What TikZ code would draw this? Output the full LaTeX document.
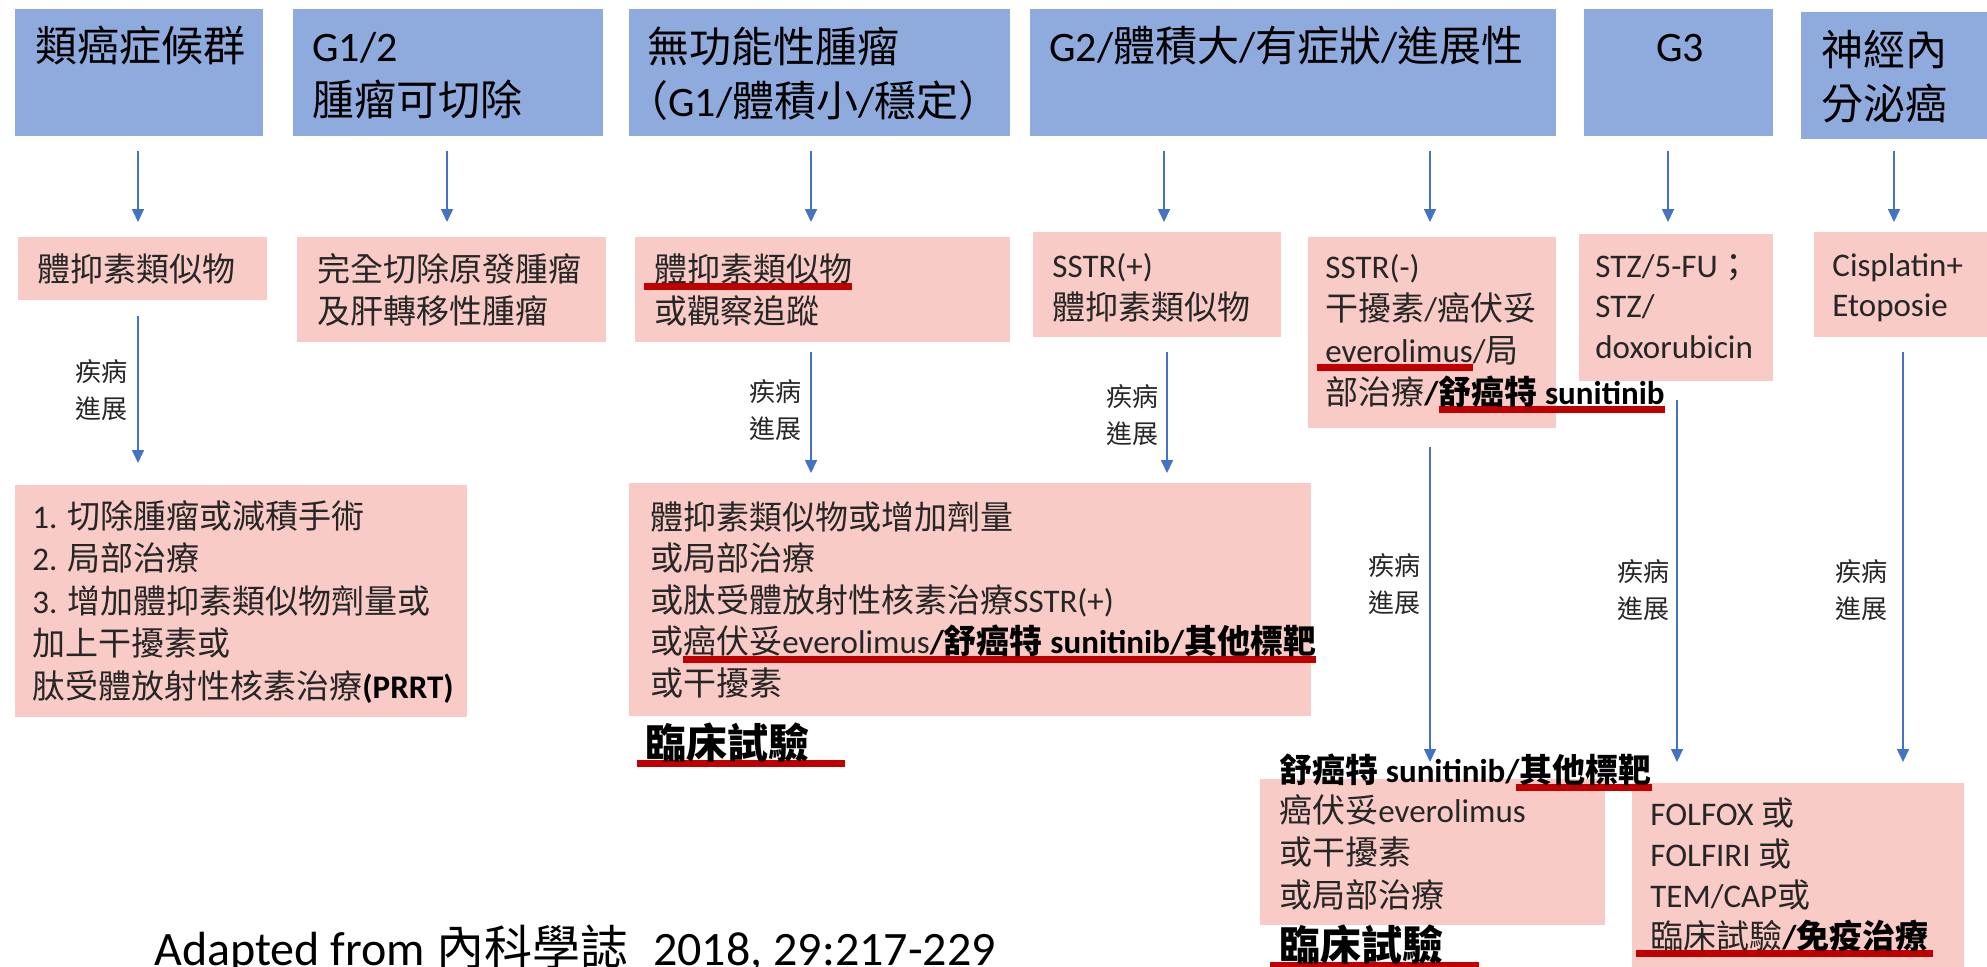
\documentclass[tikz,border=0pt]{standalone}
\usepackage{fontspec}
\setmainfont{Carlito}
\newfontfamily\cjk{Noto Sans CJK TC}
\usetikzlibrary{arrows.meta}
\definecolor{hdrblue}{HTML}{8FAADC}
\definecolor{boxpink}{HTML}{F9CBC6}
\definecolor{arrowblue}{HTML}{4472C4}
\definecolor{ulred}{HTML}{C00000}
\definecolor{txtgray}{HTML}{262626}
\newcommand\zh[1]{{\cjk #1}}
\newsavebox\ulbox
\newcommand\ulr[3]{\sbox\ulbox{#3}\rlap{\hskip-#1\textcolor{ulred}{\rule[-4.5pt]{\dimexpr\wd\ulbox+#1+#2\relax}{3.5pt}}}\usebox\ulbox}
\tikzset{
  hdr/.style={fill=hdrblue, draw=none, anchor=north west, inner sep=0pt, outer sep=0pt},
  pbox/.style={fill=boxpink, draw=none, anchor=north west, inner sep=0pt, outer sep=0pt},
  htxt/.style={anchor=base west, inner sep=0pt, align=left, text=black, font=\fontsize{21pt}{27pt}\selectfont},
  btxt/.style={anchor=base west, inner sep=0pt, align=left, text=txtgray, font=\fontsize{16.5pt}{21pt}\selectfont},
  lbl/.style={anchor=base west, inner sep=0pt, align=left, text=txtgray, font=\fontsize{13pt}{18.5pt}\selectfont},
  trial/.style={anchor=base west, inner sep=0pt, text=black, font=\fontsize{20.5pt}{24pt}\selectfont\bfseries},
  arr/.style={draw=arrowblue, line width=0.8pt, -{Triangle[width=6pt,length=6.5pt]}},
}
\begin{document}
\begin{tikzpicture}[x=0.5pt,y=-0.5pt]
\useasboundingbox (0,0) rectangle (1987,966);
% header boxes
\node[hdr, minimum width=124pt,   minimum height=63.5pt] (b1) at (15,9) {};
\node[hdr, minimum width=155pt,   minimum height=63.5pt] (b2) at (293,9) {};
\node[hdr, minimum width=190.5pt, minimum height=63.5pt] (b3) at (629,9) {};
\node[hdr, minimum width=263pt,   minimum height=63.5pt] (b4) at (1030,9) {};
\node[hdr, minimum width=94.5pt,  minimum height=63.5pt] (b5) at (1584,9) {};
\node[hdr, minimum width=93pt,    minimum height=63.5pt] (b6) at (1801,12) {};
% second row
\node[pbox, minimum width=124.5pt, minimum height=31.5pt] (p1) at (18,237) {};
\node[pbox, minimum width=154.5pt, minimum height=52.5pt] (p2) at (297,237) {};
\node[pbox, minimum width=187.5pt, minimum height=52.5pt] (p3) at (635,237) {};
\node[pbox, minimum width=124pt,   minimum height=52.5pt] (p4) at (1033,232) {};
\node[pbox, minimum width=124pt,   minimum height=95.5pt] (p5) at (1308,237) {};
\node[pbox, minimum width=97pt,    minimum height=73.5pt] (p6) at (1579,234) {};
\node[pbox, minimum width=86.5pt,  minimum height=52.5pt] (p7) at (1814,232) {};
% third row
\node[pbox, minimum width=226pt,   minimum height=116pt]   (q1) at (15,485) {};
\node[pbox, minimum width=341pt,   minimum height=116.5pt] (q2) at (629,483) {};
\node[pbox, minimum width=172.5pt, minimum height=73pt]    (q3) at (1260,779) {};
\node[pbox, minimum width=166pt,   minimum height=100pt]   (q4) at (1632,783) {};
% arrow x positions
\coordinate (ax1) at (138,0);
\coordinate (ax2) at (447,0);
\coordinate (ax3) at (811,0);
\coordinate (ax4) at (1164,0);
\coordinate (ax4b) at (1167,0);
\coordinate (ax5) at (1430,0);
\coordinate (ax6) at (1668,0);
\coordinate (ax6b) at (1677,0);
\coordinate (ax7) at (1894,0);
\coordinate (ax7b) at (1903,0);
% arrows
\draw[arr, shorten <=7.5pt, shorten >=7.5pt] (b1.south -| ax1) -- (p1.north -| ax1);
\draw[arr, shorten <=7.5pt, shorten >=7.5pt] (b2.south -| ax2) -- (p2.north -| ax2);
\draw[arr, shorten <=7.5pt, shorten >=7.5pt] (b3.south -| ax3) -- (p3.north -| ax3);
\draw[arr, shorten <=7.5pt, shorten >=5pt]   (b4.south -| ax4) -- (p4.north -| ax4);
\draw[arr, shorten <=7.5pt, shorten >=7.5pt] (b4.south -| ax5) -- (p5.north -| ax5);
\draw[arr, shorten <=7.5pt, shorten >=6pt]   (b5.south -| ax6) -- (p6.north -| ax6);
\draw[arr, shorten <=6pt,   shorten >=5pt]   (b6.south -| ax7) -- (p7.north -| ax7);
\draw[arr, shorten <=8pt,   shorten >=11pt]  (p1.south -| ax1) -- (q1.north -| ax1);
\draw[arr, shorten <=5pt,   shorten >=5pt]   (p3.south -| ax3) -- (q2.north -| ax3);
\draw[arr, shorten <=7.5pt, shorten >=5pt]   (p4.south -| ax4b) -- (q2.north -| ax4b);
\draw[arr, shorten <=9.5pt, shorten >=8.5pt] (p5.south -| ax5) -- (q3.north -| ax5);
\draw[arr, shorten <=9.5pt, shorten >=10.5pt] (p6.south -| ax6b) -- (q4.north -| ax6b);
\draw[arr, shorten <=7.5pt, shorten >=10.5pt] (p7.south -| ax7b) -- (q4.north -| ax7b);
% header texts (multi-line nodes are anchored at the baseline of their last line)
\node[htxt] (b1t) at (35,61) {\zh{類癌症候群}};
\node[htxt] (b2t) at (312,115) {G1/2\\\zh{腫瘤可切除}};
\node[htxt] (b3t) at (647,116) {\zh{無功能性腫瘤}\\\hspace*{-0.5em}\zh{（}G1/\zh{體積小}/\zh{穩定）}};
\node[htxt] (b4t) at (1049,61) {G2/\zh{體積大}/\zh{有症狀}/\zh{進展性}};
\node[htxt, anchor=base] (b5t) at (1680,61) {G3};
\node[htxt] (b6t) at (1821,119) {\zh{神經內}\\\zh{分泌癌}};
% second row texts
\node[btxt] (p1t) at (37,281) {\zh{體抑素類似物}};
\node[btxt] (p2t) at (317,323) {\zh{完全切除原發腫瘤}\\\zh{及肝轉移性腫瘤}};
\node[btxt] (p3t) at (654,323) {\ulr{5pt}{0pt}{\zh{體抑素類似物}}\\\zh{或觀察追蹤}};
\node[btxt] (p4t) at (1052,319) {SSTR(+)\\\zh{體抑素類似物}};
\node[btxt] (p5t) at (1325,404) {SSTR(-)\\\zh{干擾素}/\zh{癌伏妥}\\\ulr{4pt}{0pt}{everolimus}/\zh{局}\\\zh{部治療}\textbf{\color{black}/\ulr{0pt}{0pt}{\zh{舒癌特} sunitinib}}};
\node[btxt, font=\fontsize{16.5pt}{20.25pt}\selectfont] (p6t) at (1595,358) {STZ/5-FU\zh{；}\\STZ/\\doxorubicin};
\node[btxt, font=\fontsize{16.5pt}{20pt}\selectfont] (p7t) at (1832,316) {Cisplatin+\\Etoposie};
% third row texts
\node[btxt, font=\fontsize{16.5pt}{21.25pt}\selectfont] (q1t) at (32,698) {1. \zh{切除腫瘤或減積手術}\\2. \zh{局部治療}\\3. \zh{增加體抑素類似物劑量或}\\\zh{加上干擾素或}\\\zh{肽受體放射性核素治療}\textbf{\color{black}(PRRT)}};
\node[btxt, font=\fontsize{16.5pt}{20.75pt}\selectfont] (q2t) at (650,695) {\zh{體抑素類似物或增加劑量}\\\zh{或局部治療}\\\zh{或肽受體放射性核素治療}SSTR(+)\\\zh{或}\ulr{0pt}{0pt}{\zh{癌伏妥}everolimus\textbf{\color{black}/\zh{舒癌特} sunitinib/\zh{其他標靶}}}\\\zh{或干擾素}};
\node[trial] (trial1) at (645,758) {\ulr{4pt}{18pt}{\zh{臨床試驗}}};
\node[btxt, text=black, font=\fontsize{16.5pt}{21pt}\selectfont\bfseries] (q3top) at (1279,782) {\zh{舒癌特} sunitinib/\ulr{2pt}{0pt}{\zh{其他標靶}}};
\node[btxt, font=\fontsize{16.5pt}{21.25pt}\selectfont] (q3t) at (1279,907) {\zh{癌伏妥}everolimus\\\zh{或干擾素}\\\zh{或局部治療}};
\node[trial] (trial2) at (1279,960) {\ulr{4.5pt}{18pt}{\zh{臨床試驗}}};
\node[btxt, font=\fontsize{16.5pt}{20.5pt}\selectfont] (q4t) at (1650,948) {FOLFOX \zh{或}\\FOLFIRI \zh{或}\\TEM/CAP\zh{或}\\\ulr{7pt}{2pt}{\zh{臨床試驗}\textbf{\color{black}/\zh{免疫治療}}}};
% progression labels
\node[lbl] (l1) at (75,418)   {\zh{疾病}\\\zh{進展}};
\node[lbl] (l3) at (749,438)  {\zh{疾病}\\\zh{進展}};
\node[lbl] (l4) at (1106,443) {\zh{疾病}\\\zh{進展}};
\node[lbl] (l5) at (1368,612) {\zh{疾病}\\\zh{進展}};
\node[lbl] (l6) at (1617,618) {\zh{疾病}\\\zh{進展}};
\node[lbl] (l7) at (1835,618) {\zh{疾病}\\\zh{進展}};
% source
\node[anchor=base west, inner sep=0pt, text=black, font=\fontsize{24pt}{28pt}\selectfont] (src) at (154,965) {Adapted from \zh{內科學誌}\hspace{0.3em} 2018, 29:217-229};
\end{tikzpicture}
\end{document}
